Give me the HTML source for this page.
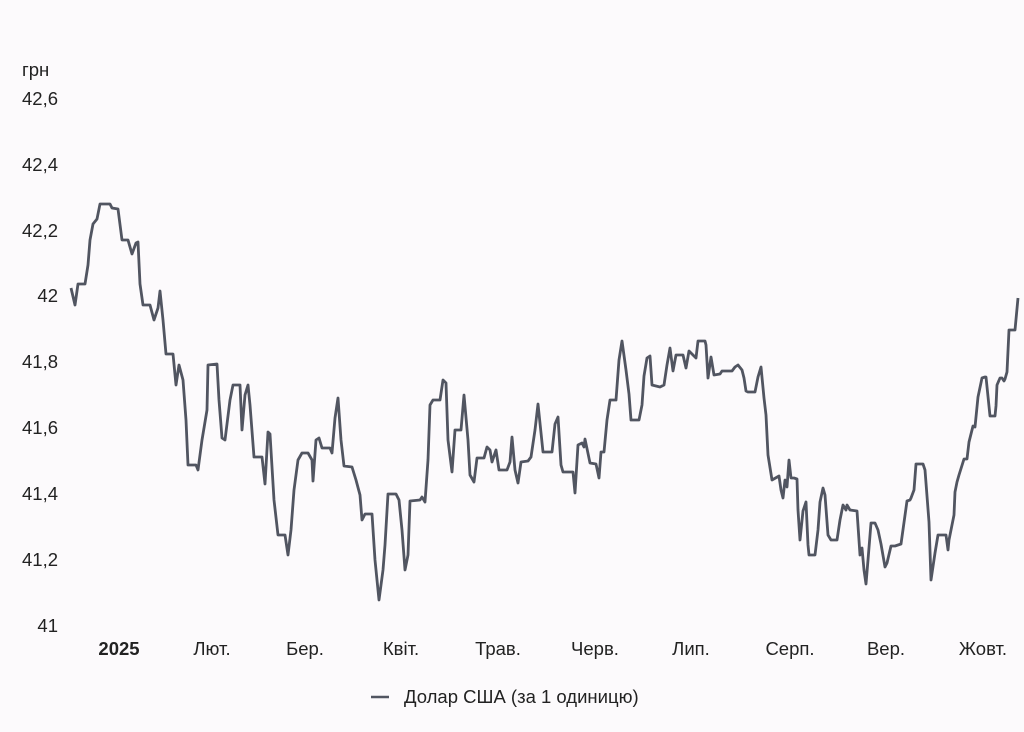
<!DOCTYPE html>
<html><head><meta charset="utf-8"><style>
html,body{margin:0;padding:0;background:#fcfafc;}
svg{display:block;font-family:"Liberation Sans",sans-serif;}
</style></head><body>
<svg width="1024" height="732" viewBox="0 0 1024 732" xmlns="http://www.w3.org/2000/svg">
<rect width="1024" height="732" fill="#fcfafc"/>
<g font-size="18.5" fill="#222">
<text x="22" y="76">грн</text>
<text x="22" y="105">42,6</text>
<text x="22" y="171">42,4</text>
<text x="22" y="237">42,2</text>
<text x="58" y="302" text-anchor="end">42</text>
<text x="22" y="368">41,8</text>
<text x="22" y="434">41,6</text>
<text x="22" y="500">41,4</text>
<text x="22" y="566">41,2</text>
<text x="58" y="632" text-anchor="end">41</text>
</g>
<g font-size="18.5" fill="#222" text-anchor="middle">
<text x="119" y="655" font-weight="bold">2025</text>
<text x="212" y="655">Лют.</text>
<text x="305" y="655">Бер.</text>
<text x="401" y="655">Квіт.</text>
<text x="498" y="655">Трав.</text>
<text x="595" y="655">Черв.</text>
<text x="691" y="655">Лип.</text>
<text x="790" y="655">Серп.</text>
<text x="886" y="655">Вер.</text>
<text x="983" y="655">Жовт.</text>
</g>
<polyline fill="none" stroke="#515561" stroke-width="2.8" stroke-linejoin="round" points="71,288 75,305 78,284 85,284 88,265 90,240 93,224 97,219 100,204 110,204 112,208 118,209 122,240 128,240 132,254 136,243 138,242 140,284 143,305 150,305 154,320 158,308 160,291 163,320 166,354 173,354 176,385 179,365 183,380 186,420 188,465 196,465 198,470 202,440 207,410 208,365 217,364 219,400 222,438 225,440 230,400 233,385 240,385 242,430 245,395 248,385 250,405 254,457 262,457 265,484 268,432 270,434 274,500 278,535 285,535 288,555 291,530 294,490 298,460 302,453 308,453 312,460 313,481 316,440 319,438 322,448 330,448 332,453 335,418 338,398 341,440 344,466 352,467 356,480 360,495 362,520 365,514 372,514 375,560 379,600 383,570 385,545 388,494 396,494 399,500 402,530 405,570 408,555 410,501 420,500 422,497 425,502 428,460 430,405 433,400 440,400 443,380 446,383 448,440 452,472 455,430 461,430 464,395 468,440 470,475 474,482 477,458 484,458 487,447 490,450 492,462 496,450 499,470 507,470 510,462 512,437 515,470 518,483 521,462 528,461 531,457 535,430 538,404 543,452 552,452 555,424 558,417 561,465 563,472 573,472 575,493 578,445 582,443 584,447 585,439 590,463 596,464 599,478 601,452 604,452 607,420 610,400 616,400 619,360 622,341 626,370 629,394 631,420 639,420 642,405 644,376 647,358 650,356 652,385 660,387 664,385 667,365 670,348 673,371 676,355 683,355 686,368 689,351 696,358 698,341 705,341 706,345 708,378 711,357 714,375 720,374 722,371 732,371 735,367 738,365 742,370 744,378 746,391 748,392 755,392 758,377 761,367 764,398 766,415 768,455 772,480 779,476 781,490 783,498 785,480 787,487 789,460 791,478 794,478 797,479 798,510 800,540 803,511 806,502 808,545 809,555 815,555 818,530 820,502 823,488 825,495 828,535 831,540 837,540 840,520 843,505 846,510 847,505 850,510 857,511 860,555 862,548 864,570 866,584 868,560 871,523 875,523 878,530 881,544 885,567 887,563 891,546 895,546 901,544 907,501 910,500 911,498 914,490 916,464 923,464 925,470 929,522 931,580 935,553 938,535 946,535 948,550 949,540 954,515 955,492 957,482 959,475 964,459 967,459 969,442 973,426 975,427 978,397 982,378 985,377 986,377 990,416 995,416 996,406 997,385 1000,378 1002,378 1004,381 1005,379 1007,372 1009,330 1015,330 1018,298"/>
<line x1="371" y1="697" x2="389" y2="697" stroke="#515561" stroke-width="2.5"/>
<text x="404" y="703" font-size="18.5" fill="#222">Долар США (за 1 одиницю)</text>
</svg>
</body></html>
